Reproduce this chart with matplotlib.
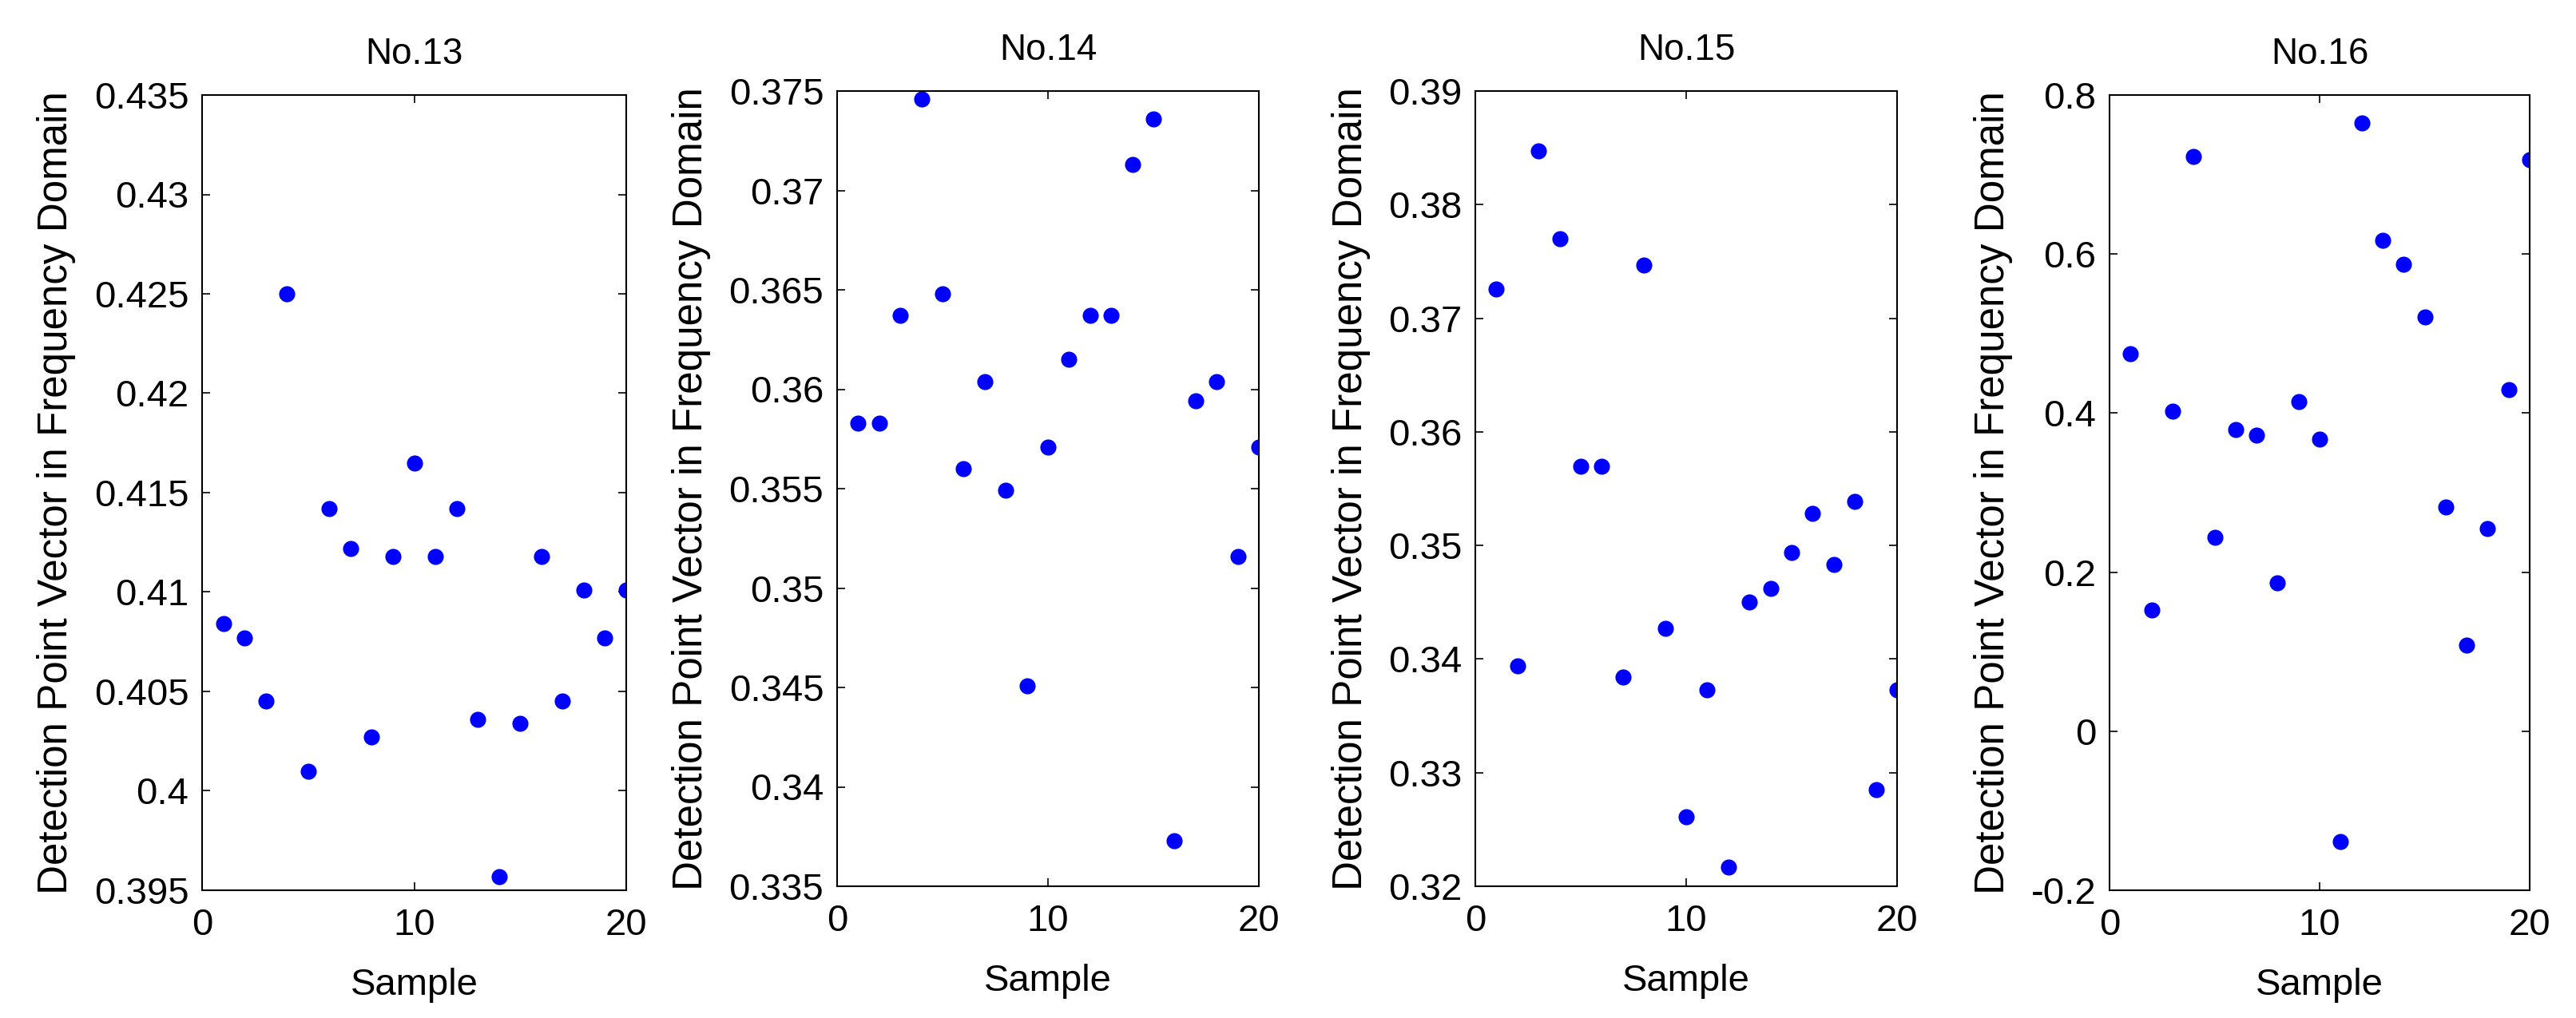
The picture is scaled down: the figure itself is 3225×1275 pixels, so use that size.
import numpy as np
from matplotlib import pyplot as plt
from matplotlib.ticker import FuncFormatter, MultipleLocator

plt.rcParams['font.family'] = ['Liberation Sans', 'DejaVu Sans']
plt.rcParams['axes.unicode_minus'] = False

# data
samples = np.arange(1, 21)
titles = ["No.13", "No.14", "No.15", "No.16"]

no13 = [0.4084, 0.4077, 0.4045, 0.4250, 0.4010, 0.4142, 0.4122, 0.4027, 0.4118, 0.4165,
        0.4118, 0.4142, 0.4036, 0.3957, 0.4034, 0.4118, 0.4045, 0.4101, 0.4077, 0.4101]
no14 = [0.3583, 0.3583, 0.3637, 0.3746, 0.3648, 0.3560, 0.3604, 0.3549, 0.3451, 0.3571,
        0.3615, 0.3637, 0.3637, 0.3713, 0.3736, 0.3373, 0.3594, 0.3604, 0.3516, 0.3571]
no15 = [0.3726, 0.3394, 0.3847, 0.3770, 0.3570, 0.3570, 0.3384, 0.3747, 0.3427, 0.3261,
        0.3373, 0.3217, 0.3450, 0.3462, 0.3494, 0.3528, 0.3483, 0.3539, 0.3285, 0.3373]
no16 = [0.4746, 0.1525, 0.4025, 0.7230, 0.2434, 0.3795, 0.3720, 0.1870, 0.4140, 0.3677,
        -0.1390, 0.7650, 0.6170, 0.5870, 0.5205, 0.2820, 0.1080, 0.2550, 0.4295, 0.7190]
series = [no13, no14, no15, no16]

ylims = [(0.395, 0.435), (0.335, 0.375), (0.32, 0.39), (-0.2, 0.8)]
ysteps = [0.005, 0.005, 0.01, 0.2]

W, H = 3225, 1275
fig = plt.figure(figsize=(W / 100, H / 100), dpi=100)

# axes boxes in pixels: left, top, width, bottom
boxes = [(253, 119, 531, 1115), (1048, 114, 528, 1110),
         (1847, 114, 528, 1110), (2641, 119, 526, 1115)]

fmt = FuncFormatter(lambda v, p: "%g" % round(v, 6))

for i in range(4):
    l, t, w, b = boxes[i]
    ax = fig.add_axes([l / W, (H - b) / H, w / W, (b - t) / H])
    ax.plot(samples, series[i], 'o', color='#0000ff', markersize=14.5, markeredgewidth=0)
    ax.set_xlim(0, 20)
    ax.set_ylim(*ylims[i])
    ax.xaxis.set_major_locator(MultipleLocator(10))
    ax.yaxis.set_major_locator(MultipleLocator(ysteps[i]))
    ax.yaxis.set_major_formatter(fmt)
    ax.tick_params(direction='in', length=7, width=1.2, top=True, right=True,
                   labelsize=34)
    ax.tick_params(axis='x', pad=16)
    ax.tick_params(axis='y', pad=12)
    for s in ax.spines.values():
        s.set_linewidth(1.5)
    ax.set_title(titles[i], fontsize=33, pad=28)
    ax.set_xlabel("Sample", fontsize=34, labelpad=22)
    ax.set_ylabel("Detection Point Vector in Frequency Domain", fontsize=36.8, labelpad=16)

fig.savefig("out.png", dpi=100)
